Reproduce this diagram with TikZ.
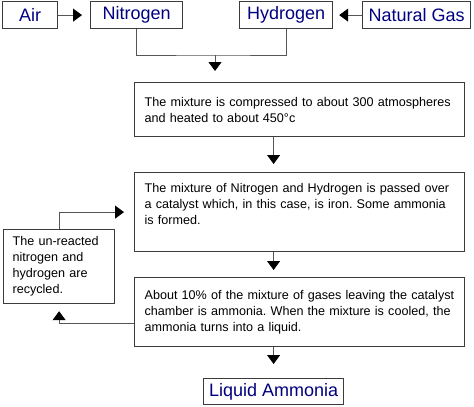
\documentclass[tikz,border=0pt]{standalone}
\usepackage{fontspec}
\setmainfont{Liberation Sans}
\usetikzlibrary{arrows.meta,positioning}
\frenchspacing

\definecolor{labelblue}{RGB}{0,0,128}
\definecolor{edgegrey}{RGB}{60,60,60}
\definecolor{wiregrey}{RGB}{85,85,85}

\tikzset{
  gas/.style={draw=edgegrey,line width=1.2pt,text=labelblue,
    font=\fontsize{18}{20}\selectfont,minimum height=27pt,
    inner sep=0pt,anchor=north west},
  stage/.style={draw=edgegrey,line width=1.2pt,
    font=\fontsize{12.6}{16}\selectfont,align=left,text width=310pt,
    inner xsep=10pt,inner ysep=0pt,anchor=north west},
  wire/.style={wiregrey,line width=0.9pt},
  flow/.style={wire,-{Triangle[width=13pt,length=9pt,color=black]}}
}

\begin{document}
\begin{tikzpicture}[x=1pt,y=-1pt]
  \useasboundingbox (0,0) rectangle (474,407);

  % raw materials
  \node[gas,minimum width=55pt] (air) at (2,1) {Air};
  \node[gas,minimum width=92pt] (nitrogen) at (90,1) {Nitrogen};
  \node[gas,minimum width=93pt] (hydrogen) at (239,1) {Hydrogen};
  \node[gas,minimum width=108pt] (natgas) at (362,1) {Natural Gas};

  % process stages
  \node[stage,minimum height=54pt] (compress) at (134,82)
    {The mixture is compressed to about 300 atmospheres\\
     and heated to about 450°c};
  \node[stage,minimum height=79pt] (catalyst) at (134,172)
    {The mixture of Nitrogen and Hydrogen is passed over\\
     a catalyst which, in this case, is iron. Some ammonia\\
     is formed.\\ \mbox{}};
  \node[stage,minimum height=69pt] (cooling) at (134,277)
    {About 10\% of the mixture of gases leaving the catalyst\\
     chamber is ammonia. When the mixture is cooled, the\\
     ammonia turns into a liquid.};
  \node[stage,text width=93pt,inner xsep=9pt,minimum height=74pt] (recycle) at (3,229)
    {The un-reacted\\nitrogen and\\hydrogen are\\recycled.};
  \node[gas,minimum width=140pt,minimum height=26pt] (liquid) at (203,378) {Liquid Ammonia};

  % connectors
  \coordinate (join) at (215,55);
  \draw[flow,shorten >=8pt] (air) -- (nitrogen);
  \draw[flow,shorten >=6pt] (natgas) -- (hydrogen);
  \draw[wire] (nitrogen.south) |- (join) -| (hydrogen.south);
  \draw[flow,shorten >=11pt] (join) -- (join |- compress.north);
  \draw[flow,shorten >=8pt] (compress.south -| liquid.north) -- (catalyst.north -| liquid.north);
  \draw[flow,shorten >=7pt] (catalyst.south -| liquid.north) -- (cooling.north -| liquid.north);
  \draw[flow,shorten >=14pt] (cooling.south -| liquid.north) -- (liquid.north);

  % recycling loop
  \coordinate (back) at ([yshift=-11.5pt]cooling.west);
  \draw[flow,shorten >=7pt] (back) -| (recycle.south);
  \draw[flow,shorten >=10pt] (recycle.north) |- (catalyst.west);
\end{tikzpicture}
\end{document}
